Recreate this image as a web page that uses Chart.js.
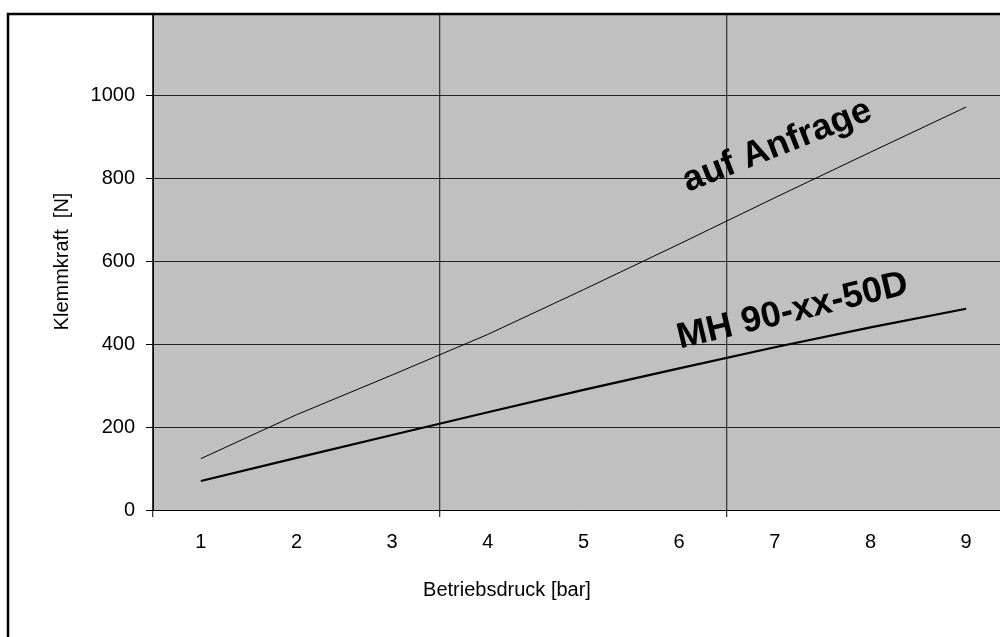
<!DOCTYPE html>
<html>
<head>
<meta charset="utf-8">
<script src="https://cdn.jsdelivr.net/npm/chart.js@4/dist/chart.umd.min.js"></script>
<style>
  html, body { margin: 0; padding: 0; background: #fff; overflow: hidden; }
  #wrap { position: relative; width: 1016px; height: 637px; }
</style>
</head>
<body>
<div id="wrap"><canvas id="chart"></canvas></div>
<script>
// Betriebsdruck (bar) categories
const xLabels = ['1', '2', '3', '4', '5', '6', '7', '8', '9'];

// Klemmkraft (N)
const anfrageValues = [124, 230, 326, 424, 532, 642, 754, 864, 973];
const mh90Values = [70, 126, 181, 236, 290, 342, 393, 441, 486];

const yMin = 0;
const yMax = 1200;
const yStep = 200;

// rotated notes: text, category index (fractional), value, angle in degrees
const noteTexts = ['auf Anfrage', 'MH 90-xx-50D'];
const noteIndex = [5.09, 5.01];
const noteValue = [768, 390];
const noteAngle = [-21.5, -13.5];

Chart.defaults.font.family = '"Liberation Sans", Arial, sans-serif';
Chart.defaults.color = '#000';

const TITLE_BOX = 59; // lineHeight 24 + padding 35

const bgPlugin = {
  id: 'bg',
  beforeDraw(chart) {
    const { ctx, chartArea: a } = chart;
    ctx.save();
    ctx.fillStyle = '#fff';
    ctx.fillRect(0, 0, chart.width, chart.height);
    ctx.fillStyle = '#c0c0c0';
    ctx.fillRect(a.left, a.top, a.right - a.left, a.bottom - a.top);
    ctx.restore();
  }
};

const notesPlugin = {
  id: 'notes',
  afterDraw(chart) {
    const { ctx } = chart;
    const xs = chart.scales.x, ys = chart.scales.y;
    ctx.save();
    ctx.fillStyle = '#000';
    ctx.font = 'bold 36px "Liberation Sans", Arial, sans-serif';
    ctx.textAlign = 'left';
    ctx.textBaseline = 'alphabetic';
    noteTexts.forEach((t, i) => {
      const px = xs.getPixelForValue(noteIndex[i]);
      const py = ys.getPixelForValue(noteValue[i]);
      ctx.save();
      ctx.translate(px, py);
      ctx.rotate(noteAngle[i] * Math.PI / 180);
      ctx.fillText(t, 0, 0);
      ctx.restore();
    });
    // outer frame (right and bottom edges fall outside the picture)
    ctx.strokeStyle = '#000';
    ctx.lineWidth = 2.5;
    ctx.strokeRect(8, 14, chart.width + 20, chart.height + 20);
    ctx.restore();
  }
};

const xGridColor = (c) => [0, 3, 6, 9].includes(c.index) ? '#3a3a3a' : 'rgba(0,0,0,0)';

new Chart(document.getElementById('chart'), {
  type: 'line',
  data: {
    labels: xLabels,
    datasets: [
      {
        label: 'auf Anfrage',
        data: anfrageValues,
        borderColor: '#000',
        borderWidth: 1,
        pointRadius: 0,
        tension: 0,
        fill: false
      },
      {
        label: 'MH 90-xx-50D',
        data: mh90Values,
        borderColor: '#000',
        borderWidth: 2.2,
        pointRadius: 0,
        tension: 0,
        fill: false
      }
    ]
  },
  options: {
    responsive: true,
    maintainAspectRatio: false,
    animation: false,
    layout: { padding: { top: 13, left: 0, right: 2, bottom: 0 } },
    plugins: {
      legend: { display: false },
      tooltip: { enabled: false },
      title: {
        display: true,
        text: 'Betriebsdruck [bar]',
        position: 'bottom',
        color: '#000',
        font: { size: 20, weight: 'normal' },
        padding: { top: 0, bottom: 35 }
      }
    },
    scales: {
      x: {
        type: 'category',
        offset: true,
        grid: {
          offset: true,
          color: xGridColor,
          tickColor: xGridColor,
          tickLength: 7,
          lineWidth: 1.3
        },
        border: { color: '#000', width: 1 },
        ticks: { font: { size: 20 }, color: '#000', padding: 13, maxRotation: 0, autoSkip: false },
        afterFit(scale) {
          scale.height = 127 - TITLE_BOX;
          scale.paddingLeft = 0;
          scale.paddingRight = 0;
        }
      },
      y: {
        min: yMin,
        max: yMax,
        grid: {
          color: (c) => c.tick && c.tick.value === yMax ? 'rgba(0,0,0,0)' : '#222',
          tickColor: '#000',
          tickLength: 7,
          lineWidth: 1
        },
        border: { color: '#000', width: 1 },
        ticks: {
          stepSize: yStep,
          font: { size: 20 },
          color: '#000',
          padding: 11,
          callback: (v) => v === yMax ? null : v
        },
        title: {
          display: true,
          text: 'Klemmkraft  [N]',
          color: '#000',
          font: { size: 20, weight: 'normal' },
          padding: { top: 50, bottom: 0 }
        },
        afterFit(scale) {
          scale.width = 153;
          scale.paddingTop = 0;
          scale.paddingBottom = 0;
        }
      }
    }
  },
  plugins: [bgPlugin, notesPlugin]
});
</script>
</body>
</html>
